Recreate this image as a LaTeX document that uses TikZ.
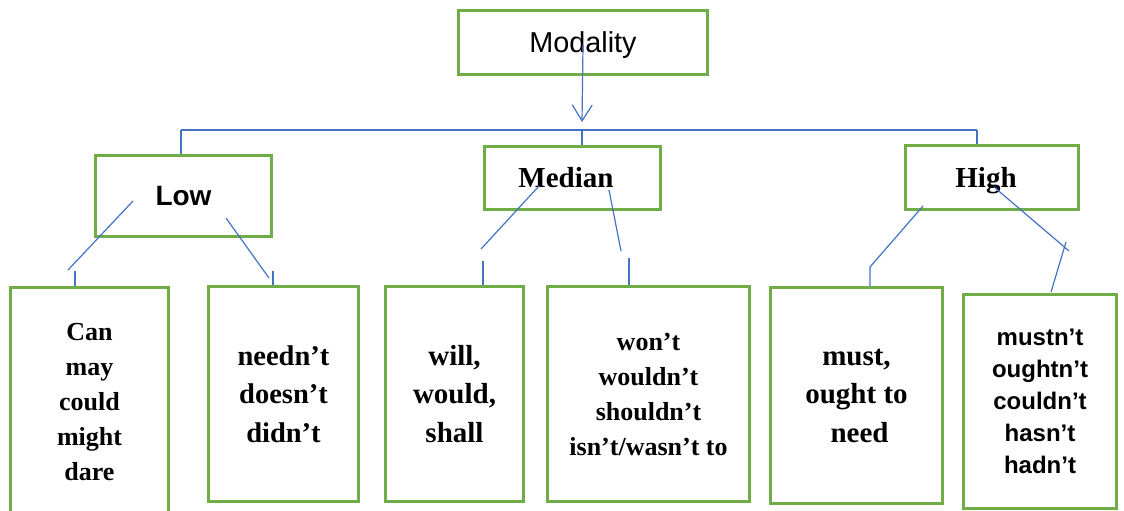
\documentclass[tikz,border=0pt]{standalone}
\usepackage{fontspec}
\setmainfont{Liberation Serif}
\setsansfont{Liberation Sans}
\usetikzlibrary{arrows.meta}
\definecolor{boxgreen}{RGB}{112,173,71}
\definecolor{linkblue}{RGB}{68,114,196}

\begin{document}
\begin{tikzpicture}[x=1pt,y=-1pt]
\tikzset{ >={Straight Barb[length=16pt,width=20pt]}, inner sep=0pt,
  box/.style={draw=boxgreen, line width=3pt, align=center},
  link/.style={linkblue, line width=1.2pt},
}
\useasboundingbox (0,0) rectangle (1124,511);
%\draw [lightgray, dashed](0,0) grid[step=50] (1124,511);

\node [box, minimum width=249, minimum height=64, text depth=0pt,
       font=\fontsize{28.8}{30}\sffamily\selectfont] (mod) at (583,42.5) {Modality};

\node [box, minimum width=176, minimum height=81,
       font=\fontsize{28}{30}\sffamily\bfseries\selectfont] (low) at (183.5,196) {Low};
\node [box, minimum width=176, minimum height=63,
       font=\fontsize{29}{31}\bfseries\selectfont] (med) at (572.5,178) {Median\hspace*{13pt}};
\node [box, minimum width=173, minimum height=64, text depth=0pt,
       font=\fontsize{29}{31}\bfseries\selectfont] (high) at (992,177.5) {High\hspace*{12pt}};

\node [box, minimum width=158, minimum height=229.5,
       font=\fontsize{26}{35}\bfseries\selectfont] (can) at (89.5,402)
      {Can\\may\\could\\might\\dare};
\node [box, minimum width=150, minimum height=215,
       font=\fontsize{28.5}{38.5}\bfseries\selectfont] (need) at (283.5,394)
      {needn’t\\doesn’t\\didn’t};
\node [box, minimum width=138, minimum height=215,
       font=\fontsize{29}{38.5}\bfseries\selectfont] (will) at (454.5,394)
      {will,\\would,\\shall};
\node [box, minimum width=202, minimum height=215,
       font=\fontsize{26}{35}\bfseries\selectfont] (wont) at (648.5,394)
      {won’t\\wouldn’t\\shouldn’t\\isn’t/wasn’t to};
\node [box, minimum width=172, minimum height=216,
       font=\fontsize{29}{38.5}\bfseries\selectfont] (must) at (856.5,395.5)
      {must,\\ought to\\\hspace*{6pt}need};
\node [box, minimum width=153, minimum height=214,
       font=\fontsize{24}{32}\sffamily\bfseries\selectfont] (mustnt) at (1040,401.5)
      {mustn’t\\oughtn’t\\couldn’t\\hasn’t\\hadn’t};

% arrow and bus
\coordinate (tip)  at (582,122);
\coordinate (busL) at (181,130);
\coordinate (busM) at (582,130);
\coordinate (busR) at (977,130);

\draw [link,->] (mod.center |- 0,45) -- (tip);
\draw [link] (busL) -- (busR);
\draw [link] (busL) -- (busL |- low.north);
\draw [link] (busM) -- (busM |- med.north);
\draw [link] (busR) -- (busR |- high.north);

% low
\coordinate (lowA) at (133,201);
\coordinate (lowB) at (68,270);
\coordinate (lowC) at (75,271);
\coordinate (lowD) at (226,218);
\coordinate (lowE) at (269,278);
\coordinate (lowF) at (273,271);

\draw [link] (lowA) -- (lowB);
\draw [link] (lowC) -- (lowC |- can.north);
\draw [link] (lowD) -- (lowE);
\draw [link] (lowF) -- (lowF |- need.north);

% median
\coordinate (medA) at (539,186);
\coordinate (medB) at (481,249);
\coordinate (medC) at (483,261);
\coordinate (medD) at (609,190);
\coordinate (medE) at (621,251);
\coordinate (medF) at (629,258);

\draw [link] (medA) -- (medB);
\draw [link] (medC) -- (medC |- will.north);
\draw [link] (medD) -- (medE);
\draw [link] (medF) -- (medF |- wont.north);

% high
\coordinate (highA) at (923,206);
\coordinate (highB) at (870,267);
\coordinate (highC) at (994,187);
\coordinate (highD) at (1069,251);
\coordinate (highE) at (1066,242);
\coordinate (highF) at (1051,292);

\draw [link] (highA) -- (highB) -- (highB |- must.north);
\draw [link] (highC) -- (highD);
\draw [link] (highE) -- (highF);

\end{tikzpicture}
\end{document}
